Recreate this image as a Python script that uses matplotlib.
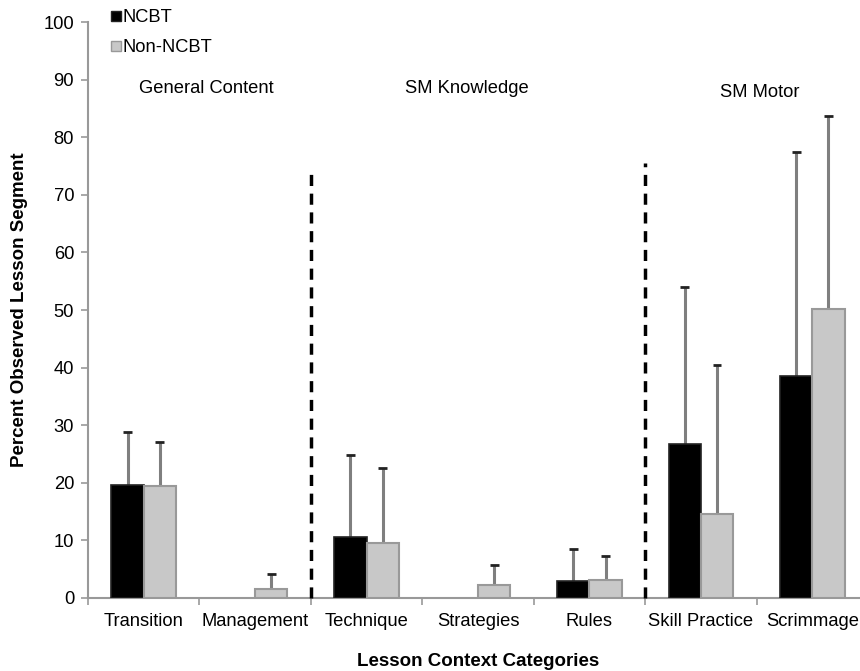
import matplotlib
matplotlib.use("Agg")
import matplotlib.pyplot as plt
from matplotlib.lines import Line2D
import numpy as np

plt.rcParams['font.family'] = ['Liberation Sans', 'DejaVu Sans']

categories = ["Transition", "Management", "Technique", "Strategies", "Rules",
              "Skill Practice", "Scrimmage"]
ncbt_mean = [19.7, 0.0, 10.6, 0.0, 2.9, 26.7, 38.5]
ncbt_err_top = [28.8, 0.0, 24.8, 0.0, 8.5, 54.0, 77.4]
non_mean = [19.4, 1.5, 9.5, 2.3, 3.2, 14.5, 50.1]
non_err_top = [27.1, 4.1, 22.5, 5.7, 7.3, 40.5, 83.7]
group_labels = ["General Content", "SM Knowledge", "SM Motor"]
group_centers = [1.06, 3.40, 6.03]
group_label_y = [88.5, 88.5, 87.8]
divider_x = [2, 5]
divider_top = [74.0, 75.5]

FS = 13.2

fig = plt.figure(figsize=(8.6, 6.71), dpi=100)
ax = fig.add_axes([0.1023, 0.1088, 0.907, 0.8584])

x = np.arange(len(categories)) + 0.5
w = 0.29

ncbt_mean = np.array(ncbt_mean)
non_mean = np.array(non_mean)
ncbt_err = np.array(ncbt_err_top) - ncbt_mean
non_err = np.array(non_err_top) - non_mean

# bars (zero-height bars are skipped so no edge line is drawn)
mask_n = ncbt_mean > 0
ax.bar(x[mask_n] - w / 2, ncbt_mean[mask_n], width=w, color='black',
       edgecolor='#222222', linewidth=1.2, zorder=3)
mask_g = non_mean > 0
ax.bar(x[mask_g] + w / 2, non_mean[mask_g], width=w, color='#c8c8c8',
       edgecolor='#999999', linewidth=1.5, zorder=3)

# upper error bars
for xs, m, e, msk in [(x - w / 2, ncbt_mean, ncbt_err, mask_n),
                      (x + w / 2, non_mean, non_err, mask_g)]:
    ax.vlines(xs[msk], m[msk], m[msk] + e[msk], color='#7f7f7f', lw=2.2, zorder=2)
    ax.hlines(m[msk] + e[msk], xs[msk] - 0.04, xs[msk] + 0.04,
              color='#222222', lw=2.0, zorder=2)

# category group dividers
for dx, top in zip(divider_x, divider_top):
    ax.plot([dx, dx], [0, top], color='black', lw=2.5, ls=(0, (3.2, 2.2)),
            zorder=4, clip_on=False)

for gx, gy, lab in zip(group_centers, group_label_y, group_labels):
    ax.text(gx, gy, lab, ha='center', va='center', fontsize=FS)

ax.set_xlim(0, 7)
ax.set_ylim(0, 100)
ax.set_yticks(np.arange(0, 101, 10))
ax.set_xticks(np.arange(0, 8))
ax.set_xticklabels([])
ax.set_xticks(x, minor=True)
ax.set_xticklabels(categories, minor=True, fontsize=FS)
ax.tick_params(axis='x', which='minor', length=0, pad=11)
ax.tick_params(axis='x', which='major', length=5, color='#999999', width=1.2)
ax.tick_params(axis='y', length=5, color='#999999', width=1.2, labelsize=FS, pad=5)

for s in ['top', 'right']:
    ax.spines[s].set_visible(False)
for s in ['left', 'bottom']:
    ax.spines[s].set_color('#999999')
    ax.spines[s].set_linewidth(1.5)

ax.set_ylabel('Percent Observed Lesson Segment', fontsize=13.5, fontweight='bold')
ax.set_xlabel('Lesson Context Categories', fontsize=13.5, fontweight='bold')
ax.yaxis.set_label_coords(-0.0765, 0.5)
ax.xaxis.set_label_coords(0.5, -0.096)

# legend with small square markers
handles = [Line2D([], [], marker='s', ls='', markersize=6.5, markerfacecolor='black',
                  markeredgecolor='#222222'),
           Line2D([], [], marker='s', ls='', markersize=6.5, markerfacecolor='#c8c8c8',
                  markeredgecolor='#999999')]
fig.legend(handles, ['NCBT', 'Non-NCBT'], loc='upper left',
           bbox_to_anchor=(0.128, 0.988), frameon=False, fontsize=FS,
           handlelength=0.6, handletextpad=0.05, labelspacing=0.72,
           borderaxespad=0, borderpad=0.05)

fig.savefig('out.png', dpi=100)
